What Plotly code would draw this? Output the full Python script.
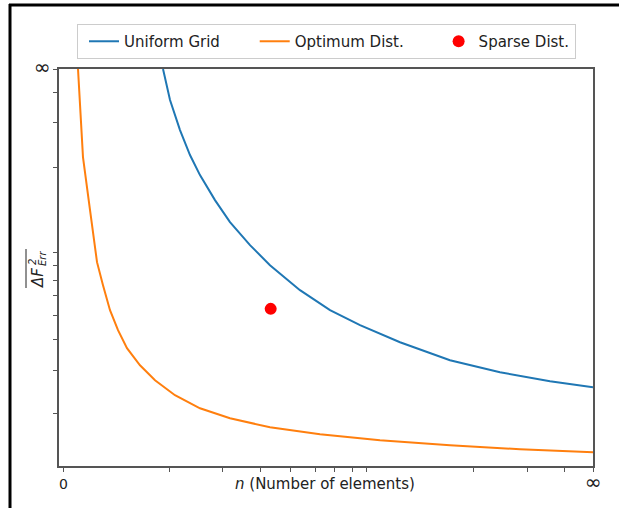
import plotly.graph_objects as go

# ---- data (normalised units: 0..100 along each axis) ----
uniform_x = [19.48, 20.79, 22.66, 24.53, 26.40, 29.21, 32.02, 35.77, 39.51, 45.13,
             50.75, 56.37, 63.86, 73.22, 82.58, 91.95, 100.0]
uniform_y = [100.0, 92.19, 84.62, 78.32, 73.28, 66.98, 61.43, 55.63, 50.59, 44.29,
             39.25, 35.47, 31.18, 26.64, 23.62, 21.35, 19.84]

optimum_x = [3.56, 3.93, 4.49, 5.81, 7.12, 8.24, 9.55, 11.05, 12.73, 15.17, 17.98,
             21.72, 26.40, 32.02, 39.51, 48.88, 60.11, 73.22, 86.33, 100.0]
optimum_y = [100.0, 89.67, 77.82, 64.46, 51.35, 45.55, 39.25, 34.21, 29.67, 25.38,
             21.60, 17.82, 14.54, 12.02, 9.76, 7.99, 6.48, 5.22, 4.21, 3.45]

sparse_x = [39.64]
sparse_y = [39.58]

INF = "<span style='font-size:20px'>∞</span>"
x_tick_vals = [0.81, 20.6, 30.71, 37.64, 43.26, 47.94, 51.50, 54.87, 57.49, 77.53, 87.64, 94.57, 100.0]
x_tick_text = ["0"] + [""] * 11 + [INF]
y_tick_vals = [13.28, 24.13, 31.94, 37.99, 42.85, 46.81, 50.59, 53.69, 75.30, 86.46, 94.03, 100.0]
y_tick_text = [""] * 11 + [INF]

FONT = "DejaVu Sans"
TXT = "#222222"
NB = "\u00a0" * 5

fig = go.Figure()
fig.add_trace(go.Scatter(x=uniform_x, y=uniform_y, mode="lines", name="Uniform Grid" + NB,
                         line=dict(color="#1f77b4", width=2)))
fig.add_trace(go.Scatter(x=optimum_x, y=optimum_y, mode="lines", name="Optimum Dist." + NB,
                         line=dict(color="#ff7f0e", width=2)))
fig.add_trace(go.Scatter(x=sparse_x, y=sparse_y, mode="markers", name="Sparse Dist.",
                         marker=dict(color="#ff0000", size=12)))

axis_common = dict(showgrid=False, zeroline=False, showline=True, mirror=True,
                   linecolor="#555555", linewidth=1.5, ticks="outside", ticklen=4,
                   tickcolor="#555555", tickwidth=1,
                   tickfont=dict(family=FONT, size=14, color=TXT))

fig.update_layout(
    width=619, height=508,
    margin=dict(l=59, r=26, t=69, b=42),
    paper_bgcolor="white", plot_bgcolor="white",
    font=dict(family=FONT, size=15, color=TXT),
    xaxis=dict(range=[0, 100], tickmode="array", tickvals=x_tick_vals, ticktext=x_tick_text,
               **axis_common),
    yaxis=dict(range=[0, 100], tickmode="array", tickvals=y_tick_vals, ticktext=y_tick_text,
               **axis_common),
    legend=dict(orientation="h", x=0.0337, y=1.1133, xanchor="left", yanchor="top",
                bordercolor="#cccccc", borderwidth=1, bgcolor="white", indentation=6,
                font=dict(family=FONT, size=15, color=TXT)),
    showlegend=True,
)

def px(x):
    return (x - 59) / 534

def py(y):
    return (466 - y) / 397

# x-axis title
fig.add_annotation(xref="paper", yref="paper", x=px(325), y=py(484), yanchor="middle",
                   xanchor="center", showarrow=False,
                   text="<i>n</i> (Number of elements)",
                   font=dict(family=FONT, size=15, color=TXT))
# y-axis label: ΔF with stacked 2 / Err, plus overline
fig.add_annotation(xref="paper", yref="paper", x=px(38), y=py(278), xanchor="center",
                   yanchor="middle", showarrow=False, textangle=-90, text="<i>ΔF</i>",
                   font=dict(family=FONT, size=15, color=TXT))
fig.add_annotation(xref="paper", yref="paper", x=px(32), y=py(262), xanchor="center",
                   yanchor="middle", showarrow=False, textangle=-90, text="<i>2</i>",
                   font=dict(family=FONT, size=10, color=TXT))
fig.add_annotation(xref="paper", yref="paper", x=px(42), y=py(259), xanchor="center",
                   yanchor="middle", showarrow=False, textangle=-90, text="<i>Err</i>",
                   font=dict(family=FONT, size=10, color=TXT))
fig.add_shape(type="line", xref="paper", yref="paper", x0=px(26), x1=px(26),
              y0=py(288), y1=py(249), line=dict(color=TXT, width=1))

# outer frame (top and left black edges)
fig.add_shape(type="line", xref="paper", yref="paper", x0=px(9), x1=px(619), y0=py(5), y1=py(5),
              line=dict(color="black", width=3))
fig.add_shape(type="line", xref="paper", yref="paper", x0=px(10), x1=px(10), y0=py(510), y1=py(4),
              line=dict(color="black", width=3))

fig.write_html("out.html")
